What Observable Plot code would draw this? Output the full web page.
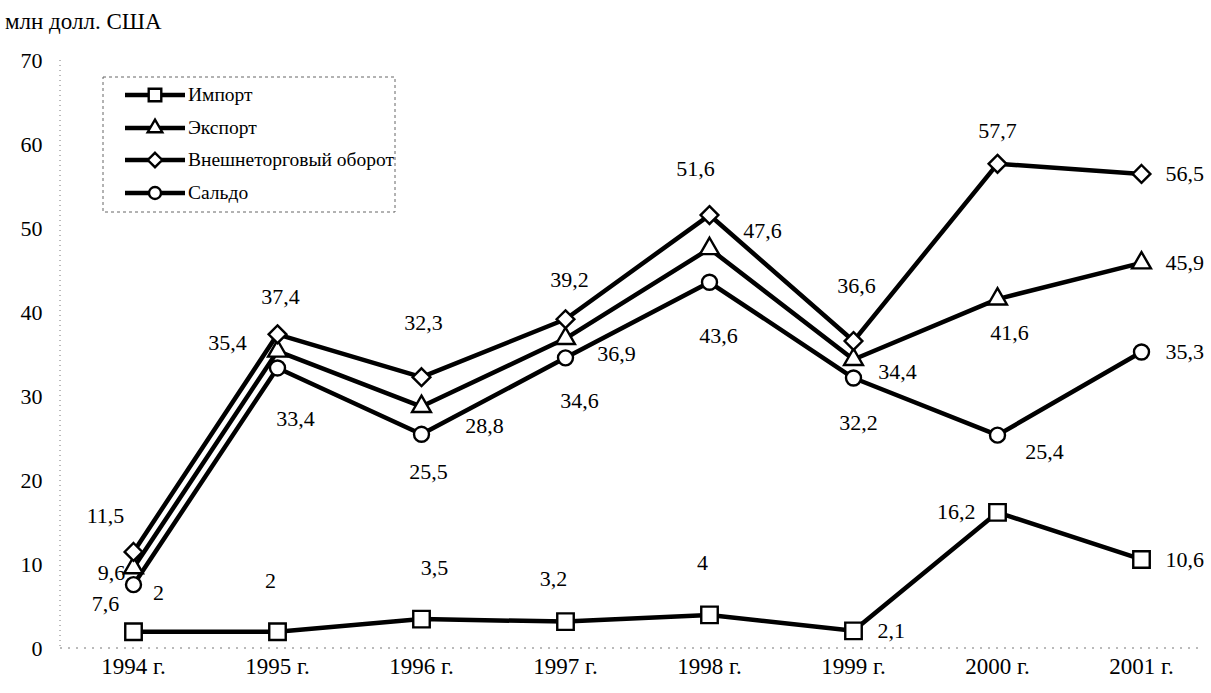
<!DOCTYPE html>
<html><head><meta charset="utf-8">
<script src="https://cdn.jsdelivr.net/npm/d3@7"></script>
<script src="https://cdn.jsdelivr.net/npm/@observablehq/plot@0.6"></script>
<style>
body{margin:0;background:#fff;font-family:"Liberation Serif","DejaVu Serif",serif;color:#000;}
#title{height:40px;position:relative;font-size:23px;}
#title span{position:absolute;left:5px;top:9px;white-space:nowrap;}
</style></head><body>
<div id="title"><span>млн долл. США</span></div>
<div id="chart"></div>
<script>
// ---- data ----
const years = ["1994 г.","1995 г.","1996 г.","1997 г.","1998 г.","1999 г.","2000 г.","2001 г."];
const importVals   = [2, 2, 3.5, 3.2, 4, 2.1, 16.2, 10.6];
const exportVals   = [9.6, 35.4, 28.8, 36.9, 47.6, 34.4, 41.6, 45.9];
const turnoverVals = [11.5, 37.4, 32.3, 39.2, 51.6, 36.6, 57.7, 56.5];
const saldoVals    = [7.6, 33.4, 25.5, 34.6, 43.6, 32.2, 25.4, 35.3];
const seriesNames  = ["Импорт", "Экспорт", "Внешнеторговый оборот", "Сальдо"];
const yTicks = [0, 10, 20, 30, 40, 50, 60, 70];

// ---- layout / style (not data) ----
const seriesValues = [importVals, exportVals, turnoverVals, saldoVals];
const seriesSymbols = ["square2", "triangle2", "diamond2", "circle"];
const seriesR = [10.5, 9, 8, 7.5];
const labelPlacement = [
  [[25,-39],[-7,-51],[13,-51],[-12,-43],[-7,-52],"r","l","r"],
  [[-22,5],[-50,-8],[63,19],[51,15],[53,-18],[44,12],[12,34],"r"],
  [[-28,-36],[3,-37],[2,-54],[4,-39],[-14,-46],[3,-55],[0,-33],"r"],
  [[-28,19],[18,51],[7,38],[14,43],[9,54],[5,45],[47,17],"r"]
];

const rows = [];
seriesNames.forEach((s, si) => {
  seriesValues[si].forEach((v, i) => rows.push({series: s, si, year: years[i], value: v, place: labelPlacement[si][i]}));
});
const fmt = v => String(v).replace(".", ",");

const labelMarks = rows.map(r => {
  let dx, dy, anchor;
  if (r.place === "r") { dx = 24; dy = 0; anchor = "start"; }
  else if (r.place === "l") { dx = -22; dy = 0; anchor = "end"; }
  else { dx = r.place[0]; dy = r.place[1]; anchor = "middle"; }
  return Plot.text([r], {x: "year", y: "value", text: d => fmt(d.value), dx, dy, textAnchor: anchor, fill: "black"});
});

const dotMarks = seriesNames.map((s, si) =>
  Plot.dot(rows.filter(r => r.si === si), {x: "year", y: "value", symbol: seriesSymbols[si], r: seriesR[si], fill: "white", stroke: "black", strokeWidth: 2.4})
);

function axisLines(index, scales, values, dims) {
  const g = d3.create("svg:g");
  g.append("line").attr("x1", dims.marginLeft).attr("x2", dims.marginLeft)
    .attr("y1", scales.y(70)).attr("y2", scales.y(0))
    .attr("stroke", "#777").attr("stroke-dasharray", "1,4").attr("stroke-width", 1);
  g.append("line").attr("x1", dims.marginLeft).attr("x2", dims.width - 10)
    .attr("y1", scales.y(0)).attr("y2", scales.y(0))
    .attr("stroke", "#777").attr("stroke-dasharray", "2,6").attr("stroke-width", 1);
  return g.node();
}

function legend() {
  const g = d3.create("svg:g");
  g.append("rect").attr("x", 103).attr("y", 37).attr("width", 292).attr("height", 135)
    .attr("fill", "white").attr("stroke", "#666").attr("stroke-dasharray", "3,3").attr("stroke-width", 1);
  const syms = [d3.symbolSquare2 || d3.symbolSquare, d3.symbolTriangle2 || d3.symbolTriangle, d3.symbolDiamond2 || d3.symbolDiamond, d3.symbolCircle];
  const rowY = [55, 88, 120, 153];
  seriesNames.forEach((s, i) => {
    const y = rowY[i];
    g.append("line").attr("x1", 125).attr("x2", 185).attr("y1", y).attr("y2", y)
      .attr("stroke", "black").attr("stroke-width", 4.5);
    const rr = [8, 7, 6.5, 6][i];
    g.append("path").attr("transform", `translate(155,${y})`)
      .attr("d", d3.symbol(syms[i], Math.PI * rr * rr)())
      .attr("fill", "white").attr("stroke", "black").attr("stroke-width", 2.4);
    g.append("text").attr("x", 188).attr("y", y).attr("dy", "0.32em")
      .attr("text-anchor", "start").attr("font-size", 19.5).attr("fill", "black").text(s);
  });
  return g.node();
}

const chart = Plot.plot({
  width: 1211,
  height: 653,
  marginTop: 20,
  marginBottom: 45,
  marginLeft: 60,
  marginRight: 0,
  style: {fontFamily: "'Liberation Serif', 'DejaVu Serif', serif", fontSize: "22px", background: "white", color: "black"},
  x: {type: "point", domain: years, range: [131, 1142], padding: 0},
  y: {domain: [0, 70]},
  marks: [
    axisLines,
    Plot.axisY({ticks: yTicks, tickSize: 0, tickPadding: 18, label: null, fontSize: 22}),
    Plot.axisX({tickSize: 0, tickPadding: 9, label: null, fontSize: 23}),
    Plot.line(rows, {x: "year", y: "value", z: "series", stroke: "black", strokeWidth: 4.5, strokeLinejoin: "miter"}),
    ...dotMarks,
    ...labelMarks,
    legend
  ]
});
document.getElementById("chart").appendChild(chart);
</script>
</body></html>
